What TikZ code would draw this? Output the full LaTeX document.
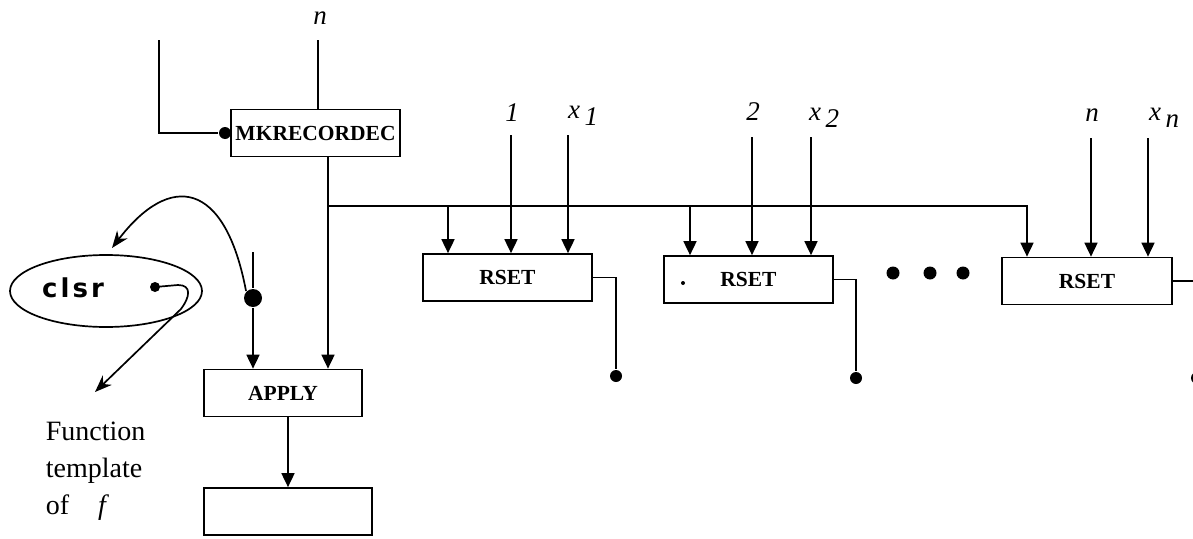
\documentclass[tikz,border=0pt]{standalone}
\usepackage{fontspec}
\setmainfont{Liberation Serif}
\usetikzlibrary{arrows.meta,shapes.geometric}
\newfontfamily\clsrfont{DejaVu Sans}[LetterSpace=12]
\begin{document}
\begin{tikzpicture}[x=1pt,y=-1pt,
  line width=1.7pt,
  arr/.style={-{Triangle[length=14pt,width=13pt]}},
  sarr/.style={-{Stealth[length=17pt,width=13pt]}},
  boxn/.style={draw,rectangle,inner sep=0pt,minimum width=#1,minimum height=47pt,font=\fontsize{21.5}{21.5}\selectfont\bfseries},
  lab/.style={inner sep=0pt,font=\fontsize{27}{27}\selectfont\itshape},
  dotn/.style={circle,fill=black,inner sep=0pt,minimum size=#1},
  dotn/.default=12pt]
\useasboundingbox (0,0) rectangle (1193,538);
\clip (0,0) rectangle (1193,538);

% boxes
\node[boxn=169pt,font=\fontsize{21.5}{21.5}\selectfont\bfseries] (mk) at (315.5,133) {MKRECORDEC};
\node[boxn=158pt] (ap) at (283,393) {APPLY};
\node[boxn=168pt] (res) at (288,511.5) {};
\node[boxn=169pt] (r1) at (507.5,277.5) {RSET};
\node[boxn=169pt] (r2) at (748.5,279.5) {RSET};
\node[boxn=170pt] (r3) at (1087,281) {RSET};
\node[dotn=4pt] (tiny) at (683,283) {};

% top of MKRECORDEC
\node[lab] (nm) at (320,18) {n};
\coordinate (nt) at (318,40);
\draw (nt) -- (nt |- mk.north);
\coordinate (lt) at (159,40);
\node[dotn] (d0) at (225,133) {};
\draw (lt) |- (d0);

% MKRECORDEC output and bus
\coordinate (bus0) at (328,206);
\draw[arr] (mk.south -| bus0) -- (ap.north -| bus0);
\draw[arr] (bus0) -| (r3.north -| 1027,0);
\coordinate (d1) at (448,206);
\coordinate (d2) at (690,206);
\draw[arr] (d1) -- (d1 |- r1.north);
\draw[arr] (d2) -- (d2 |- r2.north);

% input labels
\node[lab] (l1) at (512,113) {1};
\node[lab] (lx1) at (583,116) {x\,\raisebox{-7pt}{1}};
\node[lab] (l2) at (753,112) {2};
\node[lab] (lx2) at (824,118) {x\,\raisebox{-7pt}{2}};
\node[lab] (l3) at (1092,115) {n};
\node[lab] (lx3) at (1164,118) {x\,\raisebox{-7pt}{n}};
\coordinate (s1) at (511,135);
\coordinate (s2) at (568,135);
\coordinate (s3) at (752,137);
\coordinate (s4) at (811,137);
\coordinate (s5) at (1091,138);
\coordinate (s6) at (1148,138);
\draw[arr] (s1) -- (s1 |- r1.north);
\draw[arr] (s2) -- (s2 |- r1.north);
\draw[arr] (s3) -- (s3 |- r2.north);
\draw[arr] (s4) -- (s4 |- r2.north);
\draw[arr] (s5) -- (s5 |- r3.north);
\draw[arr] (s6) -- (s6 |- r3.north);

% RSET outputs
\node[dotn] (o1) at (616,376) {};
\node[dotn] (o2) at (856,378) {};
\node[dotn] (o3) at (1197,378) {};
\draw (r1.east) -| (o1);
\draw (r2.east) -| (o2);
\draw (r3.east) -| (o3);

% ellipsis
\node[dotn=13pt] (e1) at (893,273) {};
\node[dotn=13pt] (e2) at (930,273) {};
\node[dotn=13pt] (e3) at (963,273) {};

% APPLY inputs
\coordinate (at) at (253,252);
\node[dotn=18pt] (bd) at (253,298) {};
\draw (at) -- (bd);
\draw[arr] (bd) -- (bd |- ap.north);
\draw[arr] (ap.south -| res.north) -- (res.north);

% closure
\node[draw,ellipse,minimum width=192pt,minimum height=72pt,inner sep=0pt] (el) at (106,291) {};
\node[inner sep=0pt,font=\fontsize{26}{26}\clsrfont\bfseries] (cl) at (73,288) {clsr};
\node[dotn=10pt] (sd) at (155,287) {};
\coordinate (ft) at (95,392);
\draw[sarr] (sd.center) -- (178,285) .. controls (192,285) and (190,297) .. (181,309) -- (ft);
\coordinate (ctip) at (112,248);
\draw[sarr] (bd.north west) .. controls (225,180) and (170,172) .. (ctip);

% function template text
\node[anchor=north west,inner sep=0pt,align=left,font=\fontsize{28}{37}\selectfont] (ftxt) at (45,421) {Function\\template\\of\hspace{29pt}\textit{f}};
\end{tikzpicture}
\end{document}
